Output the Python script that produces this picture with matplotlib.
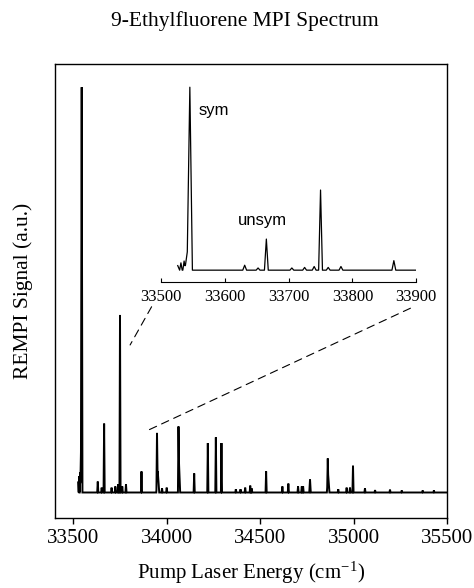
import numpy as np
import matplotlib
matplotlib.use("Agg")
import matplotlib.pyplot as plt
from matplotlib.patches import ConnectionPatch

plt.rcParams["font.family"] = "Liberation Serif"
plt.rcParams["mathtext.fontset"] = "stix"

# peaks (cm-1, signal normalised to the origin band, half-width at base in cm-1)
peak_pos = [33531, 33536, 33541, 33545, 33631, 33652, 33665, 33705, 33725, 33740, 33750, 33762,
            33782, 33865, 33948, 33952, 33975, 34000, 34063, 34066, 34147, 34220, 34263, 34293,
            34370, 34395, 34420, 34447, 34455, 34532, 34619, 34651, 34703, 34723, 34730, 34767,
            34862, 34864, 34918, 34963, 34981, 34997, 35061, 35115, 35195, 35258, 35370, 35430]
peak_height = [0.04, 0.05, 0.10, 1.00, 0.027, 0.012, 0.17, 0.012, 0.015, 0.02, 0.438, 0.015,
               0.02, 0.052, 0.147, 0.052, 0.01, 0.012, 0.163, 0.07, 0.047, 0.122, 0.136, 0.122,
               0.008, 0.008, 0.012, 0.017, 0.01, 0.052, 0.015, 0.022, 0.015, 0.015, 0.015, 0.032,
               0.084, 0.044, 0.008, 0.012, 0.012, 0.066, 0.01, 0.006, 0.007, 0.005, 0.005, 0.005]
peak_hw = [2, 2, 4, 4, 3, 3, 3, 3, 3, 3, 3, 3,
           3, 3, 3, 8, 3, 3, 3, 6, 3, 3, 3, 3,
           3, 3, 3, 3, 3, 3, 3, 3, 3, 3, 3, 4,
           3, 7, 3, 3, 3, 3, 3, 3, 3, 3, 3, 3]
scan_start = 33526
scan_end = 35500
inset_end = 33900
start_signal = 0.025

ticks_main = [33500, 34000, 34500, 35000, 35500]
ticks_inset = [33500, 33600, 33700, 33800, 33900]

# dashed guide lines: inset point -> main-plot point (data units of each axes)
link_inset = [(33485, -0.200), (33891, -0.208)]
link_main = [(33804, 0.364), (33902, 0.154)]


def spectrum():
    c = np.array(peak_pos, float)
    h = np.array(peak_height, float)
    w = np.array(peak_hw, float)
    xs = np.concatenate([c - w, c, c + w, [scan_start, inset_end, scan_end]])
    xs = np.unique(xs[(xs >= scan_start) & (xs <= scan_end)])
    ys = np.max(np.clip(h[None, :] * (1 - np.abs(xs[:, None] - c[None, :]) / w[None, :]), 0, None), axis=1)
    ys[0] = start_signal
    return xs, ys


x, y = spectrum()

fig = plt.figure(figsize=(4.74, 5.88), dpi=100)
ax = fig.add_axes([0.116, 0.119, 0.827, 0.772])
ax.plot(x, y, color="black", lw=1.4, solid_joinstyle="miter")
ax.set_xlim(33402, 35500)
ax.set_ylim(-0.063, 1.057)
ax.set_xticks(ticks_main)
ax.set_yticks([])
ax.tick_params(axis="x", direction="out", length=4, width=1, labelsize=15, pad=4)
for s in ax.spines.values():
    s.set_linewidth(1.0)
ax.set_xlabel("Pump Laser Energy (cm$^{\\mathregular{-1}}$)", fontsize=15, labelpad=8)
ax.set_ylabel("REMPI Signal (a.u.)", fontsize=15.5, labelpad=16)
fig.text(0.517, 0.964, "9-Ethylfluorene MPI Spectrum", ha="center", va="center", fontsize=15.5)

# inset: zoom on the origin region
ins = fig.add_axes([0.340, 0.520, 0.538, 0.3435])
m = x <= inset_end
ins.plot(x[m], y[m], color="black", lw=0.9)
ins.set_xlim(33500, 33900)
ins.set_ylim(-0.066, 1.038)
ins.patch.set_alpha(0)
for side in ["top", "left", "right"]:
    ins.spines[side].set_visible(False)
ins.spines["bottom"].set_linewidth(0.8)
ins.set_xticks(ticks_inset)
ins.set_yticks([])
ins.tick_params(axis="x", direction="in", length=3, width=0.8, labelsize=12, pad=5)
ins.text(33558, 0.874, "sym", family="Liberation Sans", fontsize=12, va="center")
ins.text(33621, 0.273, "unsym", family="Liberation Sans", fontsize=12, va="center")

for a, b in zip(link_inset, link_main):
    con = ConnectionPatch(xyA=a, coordsA=ins.transData, xyB=b, coordsB=ax.transData,
                          color="black", lw=0.8, linestyle=(0, (7, 5)))
    fig.add_artist(con)

fig.savefig("out.png", dpi=100)
